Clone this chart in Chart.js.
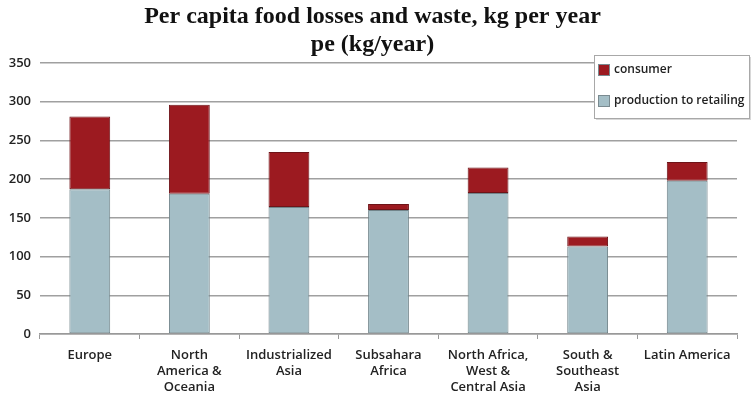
<!DOCTYPE html>
<html>
<head>
<meta charset="utf-8">
<script src="https://cdn.jsdelivr.net/npm/chart.js@4.4.0/dist/chart.umd.min.js"></script>
<style>
  html, body { margin: 0; padding: 0; background: #fff; }
  #wrap { width: 751px; height: 399px; position: relative; }
</style>
</head>
<body>
<div id="wrap"><canvas id="wasteChart"></canvas></div>
<script>
const regions = [
    'Europe',
    ['North', 'America &', 'Oceania'],
    ['Industrialized', 'Asia'],
    ['Subsahara', 'Africa'],
    ['North Africa,', 'West &', 'Central Asia'],
    ['South &', 'Southeast', 'Asia'],
    'Latin America'
];
const productionToRetailing = [187, 181, 164, 160, 182, 113, 198];
const consumer = [94, 115, 71, 8, 33, 13, 24];
const yTicks = [0, 50, 100, 150, 200, 250, 300, 350];

// legend drawn as a floating box inside the plot, top right
const boxLegend = {
    id: 'boxLegend',
    afterDraw(chart) {
        const c = chart.ctx;
        const x = 594, y = 55, w = 155, h = 63;
        c.save();
        c.fillStyle = '#d8d8d8';
        c.fillRect(x + 2, y + 2, w, h);
        c.fillStyle = '#fff';
        c.fillRect(x, y, w, h);
        c.strokeStyle = '#a8a8a8';
        c.lineWidth = 1;
        c.strokeRect(x + 0.5, y + 0.5, w, h);
        const items = chart.data.datasets.slice().reverse();
        c.font = '600 12px "Open Sans", sans-serif';
        c.textBaseline = 'middle';
        items.forEach(function (ds, i) {
            const iy = y + 15 + i * 31;
            c.fillStyle = ds.backgroundColor;
            c.fillRect(x + 4, iy - 6, 12, 12);
            c.strokeStyle = '#7a8a90';
            c.strokeRect(x + 4.5, iy - 5.5, 11, 11);
            c.fillStyle = '#222';
            c.fillText(ds.label, x + 20, iy);
        });
        c.restore();
    }
};

const ctx = document.getElementById('wasteChart').getContext('2d');
new Chart(ctx, {
    type: 'bar',
    data: {
        labels: regions,
        datasets: [{
            label: 'production to retailing',
            data: productionToRetailing,
            backgroundColor: '#a4bec6',
            borderColor: '#72858b',
            borderWidth: 1,
            borderSkipped: false,
            barPercentage: 0.41,
            categoryPercentage: 1
        }, {
            label: 'consumer',
            data: consumer,
            backgroundColor: '#9c1a20',
            borderColor: '#6e1418',
            borderWidth: 1,
            borderSkipped: false,
            barPercentage: 0.41,
            categoryPercentage: 1
        }]
    },
    options: {
        responsive: true,
        maintainAspectRatio: false,
        animation: false,
        layout: { padding: { left: 8, right: 14, top: 0, bottom: -4 } },
        plugins: {
            legend: { display: false },
            tooltip: { enabled: false },
            title: {
                display: true,
                text: ['Per capita food losses and waste, kg per year', 'pe (kg/year)'],
                color: '#111',
                font: { family: '"Liberation Serif", serif', size: 24, weight: 'bold', lineHeight: '28px' },
                padding: { top: 3, bottom: 4 }
            }
        },
        scales: {
            x: {
                stacked: true,
                grid: { display: true, drawOnChartArea: false, offset: true, tickLength: 5, color: '#999' },
                border: { display: true, color: '#999', width: 1.5 },
                ticks: {
                    color: '#222',
                    padding: 8,
                    maxRotation: 0,
                    autoSkip: false,
                    font: { family: '"Open Sans", sans-serif', size: 13, weight: '600', lineHeight: '16px' }
                }
            },
            y: {
                stacked: true,
                min: 0,
                max: 350,
                afterBuildTicks(axis) {
                    axis.ticks = yTicks.map(v => ({ value: v }));
                },
                afterFit(axis) {
                    axis.width = 32;
                },
                grid: { color: '#a0a0a0', lineWidth: 1.5, drawTicks: false },
                border: { display: false },
                ticks: {
                    color: '#222',
                    padding: 9,
                    font: { family: '"Open Sans", sans-serif', size: 13, weight: '600' }
                }
            }
        }
    },
    plugins: [boxLegend]
});
</script>
</body>
</html>
